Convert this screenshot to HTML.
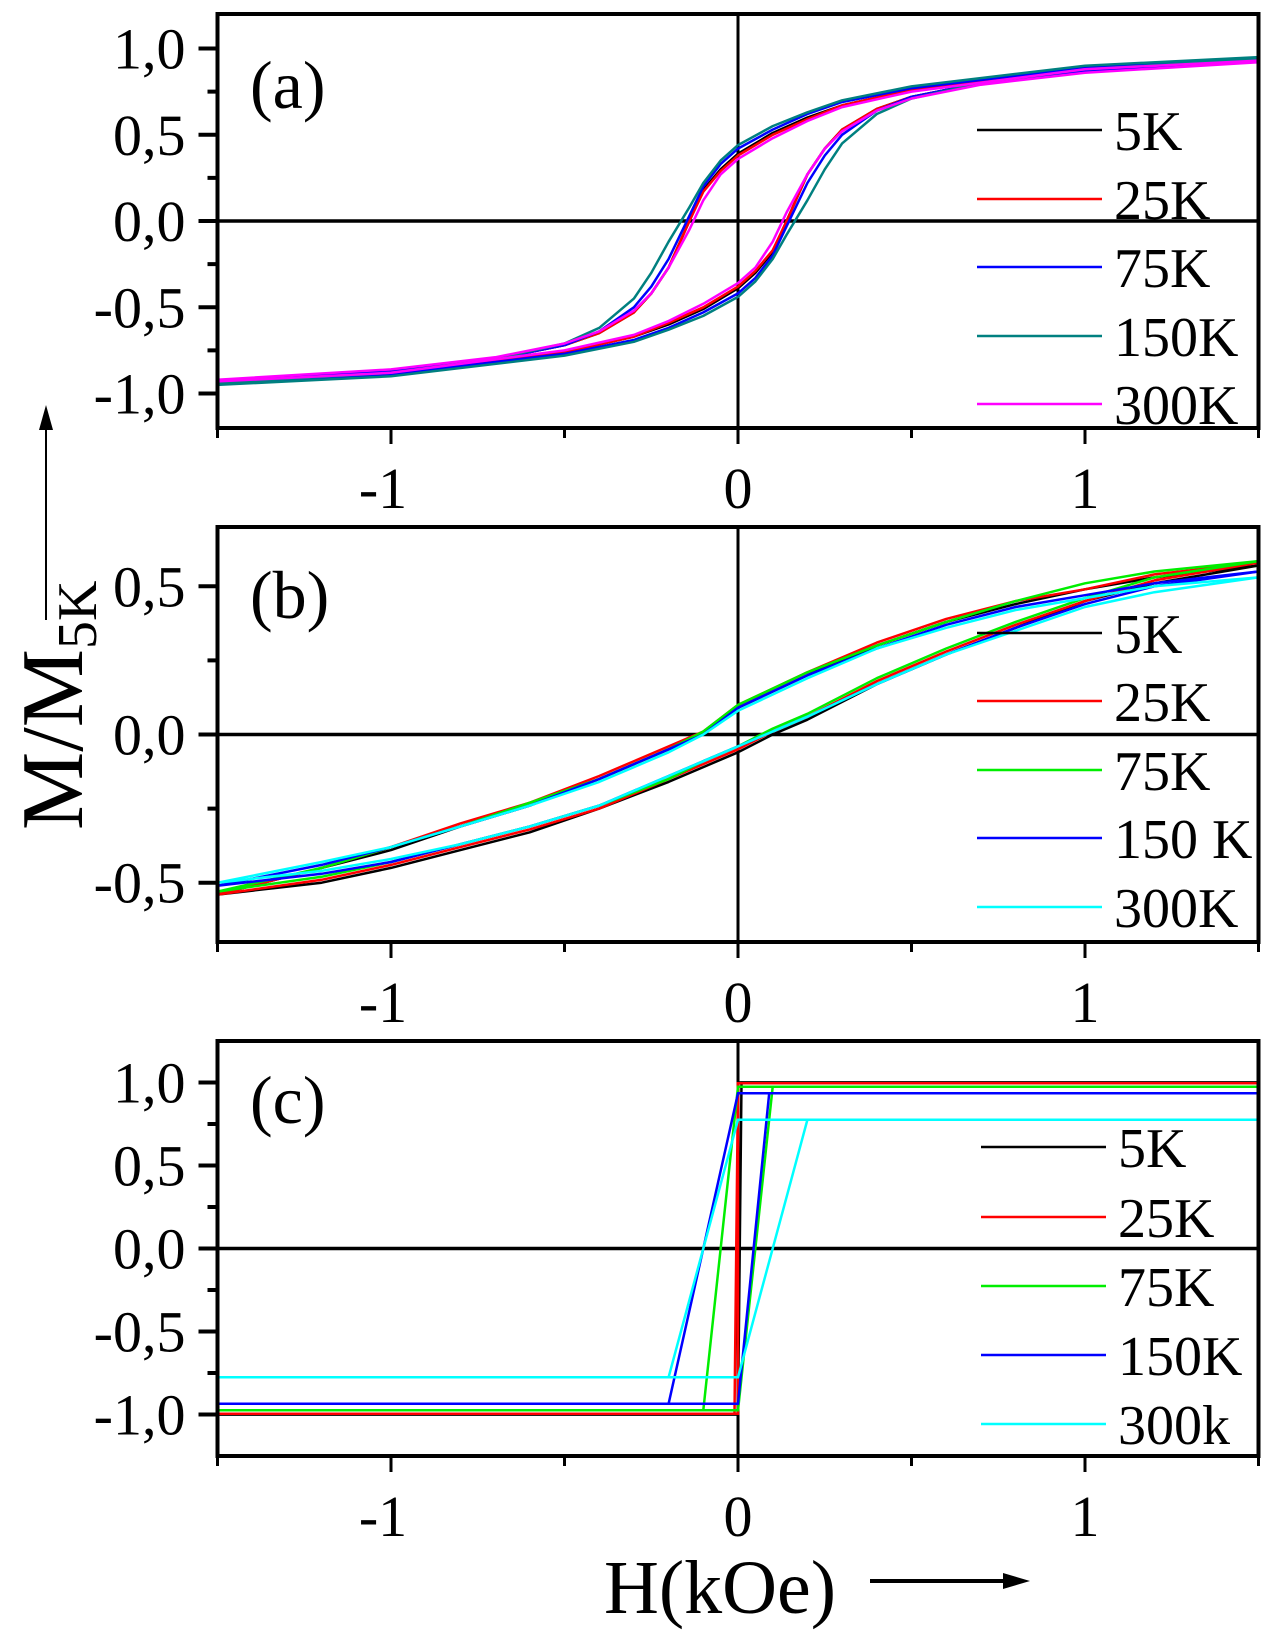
<!DOCTYPE html>
<html><head><meta charset="utf-8"><style>
html,body{margin:0;padding:0;background:#fff;}
svg{display:block;font-family:"Liberation Serif",serif;}
</style></head><body>
<svg id="fig" width="1270" height="1642" viewBox="0 0 1270 1642" xmlns="http://www.w3.org/2000/svg">
<rect width="1270" height="1642" fill="#fff"/>
<g id="root"></g>
<text transform="translate(82,830) rotate(-90)" font-size="88">M/M<tspan font-size="56" dy="14">5K</tspan></text>
<line x1="46" y1="620" x2="46" y2="425" stroke="#000" stroke-width="2"/>
<polygon points="46,405 39,430 53,430" fill="#000"/>
<text x="720" y="1613" font-size="76" text-anchor="middle">H(kOe)</text>
<line x1="870" y1="1581" x2="1005" y2="1581" stroke="#000" stroke-width="4"/>
<polygon points="1030,1581 1003,1573 1003,1589" fill="#000"/>
</svg>
<script>
// ---- Panel (a) data: descending branch, lower branch by antisymmetry ----
const hA = [1.5,1.0,0.5,0.3,0.2,0.1,0,-0.05,-0.1,-0.14,-0.2,-0.25,-0.3,-0.4,-0.5,-0.7,-1.0,-1.5];
const a5K   = [0.94,0.89,0.76,0.67,0.60,0.51,0.39,0.30,0.18,0.00,-0.27,-0.42,-0.53,-0.65,-0.72,-0.80,-0.87,-0.93];
const a25K  = [0.93,0.88,0.76,0.67,0.59,0.50,0.38,0.29,0.17,0.00,-0.27,-0.42,-0.53,-0.65,-0.72,-0.80,-0.87,-0.93];
const a75K  = [0.94,0.89,0.77,0.69,0.62,0.53,0.42,0.33,0.20,0.03,-0.22,-0.38,-0.50,-0.64,-0.72,-0.80,-0.87,-0.93];
const a150K = [0.95,0.90,0.78,0.70,0.63,0.55,0.44,0.35,0.22,0.08,-0.12,-0.30,-0.45,-0.62,-0.71,-0.80,-0.88,-0.94];
const a300K = [0.93,0.88,0.75,0.66,0.58,0.48,0.36,0.27,0.12,-0.05,-0.27,-0.42,-0.52,-0.64,-0.71,-0.79,-0.86,-0.92];
const labelsA = ["5K","25K","75K","150K","300K"];
// ---- Panel (b) data: explicit descending (upper) and ascending (lower) branches ----
const hBdown = [1.5,1.2,1.0,0.8,0.6,0.4,0.2,0,-0.1,-0.2,-0.4,-0.6,-0.8,-1.0,-1.2,-1.5];
const b5Kd   = [0.57,0.53,0.49,0.44,0.38,0.30,0.20,0.09,0.00,-0.05,-0.15,-0.24,-0.31,-0.39,-0.45,-0.54];
const b25Kd  = [0.58,0.54,0.49,0.45,0.39,0.31,0.21,0.10,0.01,-0.04,-0.14,-0.23,-0.30,-0.38,-0.45,-0.54];
const b75Kd  = [0.585,0.55,0.51,0.45,0.38,0.30,0.21,0.10,0.01,-0.05,-0.15,-0.23,-0.31,-0.38,-0.45,-0.53];
const b150Kd = [0.55,0.51,0.47,0.43,0.37,0.29,0.20,0.09,0.00,-0.05,-0.15,-0.24,-0.31,-0.38,-0.44,-0.51];
const b300Kd = [0.53,0.50,0.46,0.42,0.36,0.29,0.19,0.08,0.00,-0.06,-0.16,-0.24,-0.31,-0.38,-0.43,-0.50];
const hBup = [-1.5,-1.2,-1.0,-0.8,-0.6,-0.4,-0.2,-0.1,0,0.1,0.2,0.4,0.6,0.8,1.0,1.2,1.5];
const b5Ku   = [-0.54,-0.50,-0.45,-0.39,-0.33,-0.25,-0.16,-0.11,-0.06,0.00,0.05,0.17,0.27,0.36,0.45,0.51,0.57];
const b25Ku  = [-0.54,-0.49,-0.44,-0.38,-0.32,-0.25,-0.15,-0.10,-0.05,0.01,0.06,0.18,0.28,0.37,0.45,0.52,0.58];
const b75Ku  = [-0.53,-0.48,-0.43,-0.37,-0.31,-0.24,-0.15,-0.09,-0.04,0.02,0.07,0.19,0.29,0.38,0.46,0.53,0.585];
const b150Ku = [-0.51,-0.47,-0.43,-0.37,-0.31,-0.24,-0.14,-0.09,-0.04,0.01,0.06,0.17,0.27,0.36,0.44,0.50,0.55];
const b300Ku = [-0.50,-0.46,-0.42,-0.37,-0.31,-0.24,-0.14,-0.09,-0.04,0.01,0.06,0.17,0.27,0.35,0.43,0.48,0.53];
const labelsB = ["5K","25K"," 75K","150 K","300K"];
// ---- Panel (c) data: square loops ----
const msC = [1.0,0.995,0.975,0.935,0.775];
const hDownC = [0.0,-0.01,-0.10,-0.20,-0.20];
const hUpC = [0.01,0.0,0.10,0.09,0.20];
const labelsC = ["5K","25K","75K","150K","300k"];
const ticksX = [-1,0,1];

const NS="http://www.w3.org/2000/svg";
const root=document.getElementById('root');
function mk(tag,attrs,parent){const e=document.createElementNS(NS,tag);for(const k in attrs)e.setAttribute(k,attrs[k]);(parent||root).appendChild(e);return e;}

const X0=217.5,X1=1258.5;
function xs(h){return X0+(h+1.5)/3*(X1-X0);}

function panel(name,top,bottom,ymax,yMajor,yMinor,yLabels,tag,tagY,legendX,legendRows,labels,colors){
  const g=mk('g',{});
  
  
  const ys=v=>top+(ymax-v)/(2*ymax)*(bottom-top);
  const plot=mk('g',{},g);
  
  
  const zx=mk('line',{x1:xs(0),x2:xs(0),y1:top,y2:bottom,stroke:'#000','stroke-width':3},plot);
  
  
  const zy=mk('line',{x1:X0,x2:X1,y1:ys(0),y2:ys(0),stroke:'#000','stroke-width':3.5},plot);
  
  
  yMajor.forEach((v,i)=>{
    const t=mk('line',{x1:X0-19,x2:X0,y1:ys(v),y2:ys(v),stroke:'#000','stroke-width':4},g);
    
    
    const l=mk('text',{x:X0-32,y:ys(v)+20,'font-size':58,'text-anchor':'end'},g);
    l.textContent=yLabels[i];
    
    
  });
  yMinor.forEach(v=>{
    const t=mk('line',{x1:X0-10,x2:X0,y1:ys(v),y2:ys(v),stroke:'#000','stroke-width':4},g);
    
    
  });
  [-1.5,-0.5,0.5,1.5].forEach(v=>{
    const t=mk('line',{x1:xs(v),x2:xs(v),y1:bottom,y2:bottom+10,stroke:'#000','stroke-width':3},g);
    
    
  });
  ticksX.forEach(v=>{
    const t=mk('line',{x1:xs(v),x2:xs(v),y1:bottom,y2:bottom+16,stroke:'#000','stroke-width':3},g);
    
    
    const l=mk('text',{x:xs(v)-(v<0?8:0),y:bottom+80,'font-size':58,'text-anchor':'middle'},g);
    l.textContent=String(v);
    
    
  });
  const tg=mk('text',{x:250,y:tagY,'font-size':68},g);
  tg.textContent=tag;
  
  
  labels.forEach((lab,i)=>{
    const ln=mk('line',{x1:legendX,x2:legendX+125,y1:legendRows[i],y2:legendRows[i],stroke:colors[i],'stroke-width':2.5},g);
    
    
    const t=mk('text',{x:legendX+137,y:legendRows[i]+20,'font-size':56},g);
    t.textContent=lab;
    
    
  });
  return {g,ys,plot,frame:()=>{
    const f=mk('rect',{x:X0,y:top,width:X1-X0,height:bottom-top,fill:'none',stroke:'#000','stroke-width':4},g);
    
    
  }};
}

function branch(P,hs,vals,color,name){
  const pts=hs.map((h,i)=>xs(h).toFixed(1)+','+P.ys(vals[i]).toFixed(1));
  const p=mk('polyline',{points:pts.join(' '),fill:'none',stroke:color,'stroke-width':2.5,'stroke-linejoin':'round'},P.plot);
  
  
}
function loop(P,hs,vals,color,name){
  branch(P,hs,vals,color,name+'-descending');
  branch(P,hs.map(h=>-h),vals.map(v=>-v),color,name+'-ascending');
}

const colA=['#000','#ff0000','#0000ff','#008080','#ff00ff'];
const A=panel('a',14,428,1.2,[1,0.5,0,-0.5,-1],[0.75,0.25,-0.25,-0.75],['1,0','0,5','0,0','-0,5','-1,0'],'(a)',108,977,[130,199,267,336,404],labelsA,colA);
[a5K,a25K,a75K,a150K,a300K].forEach((s,i)=>loop(A,hA,s,colA[i],'series-a-'+labelsA[i]));
A.frame();

const colB=['#000','#ff0000','#00ee00','#0000ff','#00ffff'];
const B=panel('b',527,942,0.7,[0.5,0,-0.5],[0.25,-0.25],['0,5','0,0','-0,5'],'(b)',618,977,[633,701,770,838,907],labelsB,colB);
const bDown=[b5Kd,b25Kd,b75Kd,b150Kd,b300Kd], bUp=[b5Ku,b25Ku,b75Ku,b150Ku,b300Ku];
bDown.forEach((s,i)=>{
  branch(B,hBdown,s,colB[i],'series-b-'+labelsB[i].trim()+'-descending');
  branch(B,hBup,bUp[i],colB[i],'series-b-'+labelsB[i].trim()+'-ascending');
});
B.frame();

const colC=['#000','#ff0000','#00ee00','#0000ff','#00ffff'];
const C=panel('c',1041,1456,1.25,[1,0.5,0,-0.5,-1],[0.75,0.25,-0.25,-0.75],['1,0','0,5','0,0','-0,5','-1,0'],'(c)',1123,981,[1147,1217,1286,1355,1424],labelsC,colC);
msC.forEach((ms,i)=>{
  const down=[[1.5,ms],[0,ms],[hDownC[i],-ms],[-1.5,-ms]];
  const upb=[[-1.5,-ms],[0,-ms],[hUpC[i],ms],[1.5,ms]];
  [down,upb].forEach((arr,k)=>{
    const p=mk('polyline',{points:arr.map(d=>xs(d[0]).toFixed(1)+','+C.ys(d[1]).toFixed(1)).join(' '),fill:'none',stroke:colC[i],'stroke-width':2.5},C.plot);
    
    
  });
});
C.frame();
</script>
</body></html>
